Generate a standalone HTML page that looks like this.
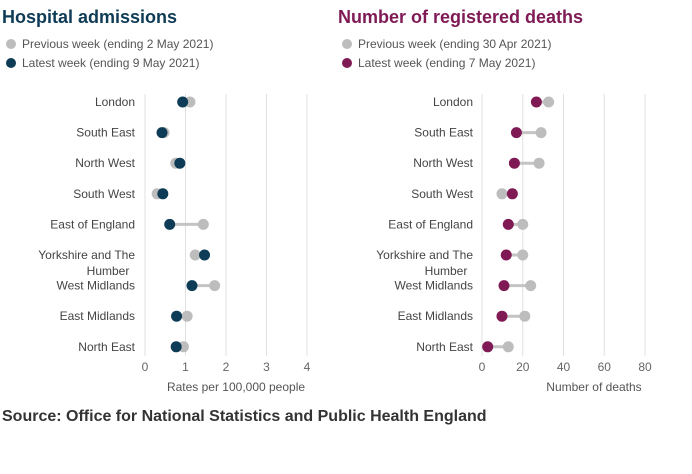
<!DOCTYPE html>
<html><head><meta charset="utf-8"><style>
body{margin:0;background:#fff;width:692px;height:469px;overflow:hidden;font-family:"Liberation Sans",sans-serif}
</style></head><body>
<svg id="c" width="692" height="469" xmlns="http://www.w3.org/2000/svg" font-family="Liberation Sans, sans-serif">
<text x="2" y="23" font-size="18" font-weight="bold" fill="#0e3b55">Hospital admissions</text>
<circle cx="11" cy="44" r="5" fill="#bdbdbd"/>
<text x="22" y="48" font-size="12" fill="#555">Previous week (ending 2 May 2021)</text>
<circle cx="11" cy="63" r="5" fill="#0e3b55"/>
<text x="22" y="67" font-size="12" fill="#555">Latest week (ending 9 May 2021)</text>
<text x="338" y="23" font-size="18" font-weight="bold" fill="#7f1a55">Number of registered deaths</text>
<circle cx="347" cy="44" r="5" fill="#bdbdbd"/>
<text x="358" y="48" font-size="12" fill="#555">Previous week (ending 30 Apr 2021)</text>
<circle cx="347" cy="63" r="5" fill="#7f1a55"/>
<text x="358" y="67" font-size="12" fill="#555">Latest week (ending 7 May 2021)</text>
<text x="2" y="421" font-size="16" font-weight="bold" fill="#333">Source: Office for National Statistics and Public Health England</text>
</svg>
<script>
const regions=["London","South East","North West","South West","East of England","Yorkshire and The|Humber","West Midlands","East Midlands","North East"];
const hospPrev=[1.11,0.47,0.76,0.30,1.44,1.24,1.72,1.04,0.95];
const hospLatest=[0.93,0.42,0.86,0.44,0.61,1.47,1.16,0.78,0.77];
const hospTicks=[0,1,2,3,4];
const deathPrev=[32.7,29,28,9.8,20,20,23.9,21,12.9];
const deathLatest=[26.7,16.9,15.9,14.9,12.9,11.9,10.8,9.8,2.8];
const deathTicks=[0,20,40,60,80];
const svg=document.getElementById('c');
const NS="http://www.w3.org/2000/svg";
function mk(t,a,txt){const e=document.createElementNS(NS,t);for(const k in a)e.setAttribute(k,a[k]);if(txt!=null)e.textContent=txt;svg.appendChild(e);return e;}
const rowY=i=>102+i*30.6;
function panel(key,x0,x1,max,ticks,prev,latest,color,labelRight,axisTitle,titleX){
  const sx=v=>x0+(x1-x0)*v/max;
  ticks.forEach(t=>{
    const g=mk('line',{x1:sx(t),x2:sx(t),y1:94,y2:356,stroke:'#e0e0e0','stroke-width':1});
    
    
    const tl=mk('text',{x:sx(t),y:371,'font-size':12,fill:'#666','text-anchor':'middle'},String(t));
    
    
  });
  const at=mk('text',{x:titleX,y:391,'font-size':12,fill:'#555','text-anchor':'middle'},axisTitle);
  
  
  regions.forEach((r,i)=>{
    const y=rowY(i);
    const parts=r.split('|');
    parts.forEach((p,j)=>{
      const l=mk('text',{x:j?labelRight-27:labelRight,y:y+4+j*16,'font-size':12,fill:'#444','text-anchor':j?'middle':'end'},p);
      
      
    });
    const ln=mk('line',{x1:sx(prev[i]),x2:sx(latest[i]),y1:y,y2:y,stroke:'#c4c4c4','stroke-width':3});
    
    
    const p=mk('circle',{cx:sx(prev[i]),cy:y,r:5.5,fill:'#bdbdbd'});
    
    
    const c=mk('circle',{cx:sx(latest[i]),cy:y,r:5.5,fill:color});
    
    
  });
}
panel('hospital',145,307,4,hospTicks,hospPrev,hospLatest,'#0e3b55',135,'Rates per 100,000 people',236);
panel('deaths',482,645,80,deathTicks,deathPrev,deathLatest,'#7f1a55',473,'Number of deaths',594);
</script>
</body></html>
